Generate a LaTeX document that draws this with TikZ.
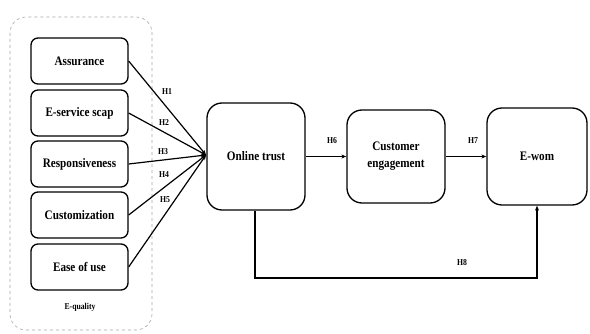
\documentclass[tikz,border=0pt]{standalone}
\usepackage{fontspec}
\setmainfont{Liberation Serif}
\usetikzlibrary{arrows.meta}
\newcommand{\sq}[1]{\scalebox{0.86}[1]{#1}}
\begin{document}
\begin{tikzpicture}[x=1pt,y=-1pt,
  box/.style={draw, line width=1.3pt, rounded corners=7pt, align=center, inner sep=0pt,
    font=\bfseries\fontsize{13}{17}\selectfont},
  lab/.style={font=\bfseries\fontsize{9}{10}\selectfont, inner sep=0pt},
  conn/.style={line width=1.2pt, -{Stealth[length=5pt,width=4pt]}}]
\useasboundingbox (0,0) rectangle (590,334);
\draw[dashed, gray!70, line width=0.6pt, rounded corners=16pt] (10,17) rectangle (152,330);
\node[box, minimum width=97pt, minimum height=46pt] (a) at (79.5,61) {\sq{Assurance}};
\node[box, minimum width=97pt, minimum height=46pt] (b) at (79.5,113) {\sq{E-service scap}};
\node[box, minimum width=97pt, minimum height=46pt] (c) at (79.5,164) {\sq{Responsiveness}};
\node[box, minimum width=97pt, minimum height=46pt] (d) at (79.5,215) {\sq{Customization}};
\node[box, minimum width=97pt, minimum height=46pt] (e) at (79.5,267) {\sq{Ease of use}};
\node[lab] (eq) at (80,307) {\sq{E-quality}};
\node[box, minimum width=98pt, minimum height=107pt, rounded corners=15pt] (ot) at (256,156.5) {\sq{Online trust}};
\node[box, minimum width=98pt, minimum height=93pt, rounded corners=15pt] (ce) at (396,156.5) {\sq{Customer}\\\sq{engagement}};
\node[box, minimum width=100pt, minimum height=97pt, rounded corners=15pt] (ew) at (537,156.5) {\sq{E-wom}};
\coordinate (m) at (206,155);
\draw[conn] (a.east) -- (m);
\draw[conn] (b.east) -- (m);
\draw[conn] (c.east) -- (m);
\draw[conn] (d.east) -- (m);
\draw[conn] (e.east) -- (m);
\node[lab] (h1) at (167,92) {\sq{H1}};
\node[lab] (h2) at (164,123) {\sq{H2}};
\node[lab] (h3) at (163,152) {\sq{H3}};
\node[lab] (h4) at (164,175) {\sq{H4}};
\node[lab] (h5) at (165,200) {\sq{H5}};
\draw[conn] (ot.east) -- (ce.west);
\draw[conn] (ce.east) -- (ew.west);
\node[lab] (h6) at (332,141) {\sq{H6}};
\node[lab] (h7) at (473,141) {\sq{H7}};
\coordinate (c1) at (255,278);
\coordinate (c2) at (537,278);
\draw[conn] (ot.south -| c1) -- (c1) -- (c2) -- (ew.south);
\node[lab] (h8) at (462,263) {\sq{H8}};
\end{tikzpicture}
\end{document}
